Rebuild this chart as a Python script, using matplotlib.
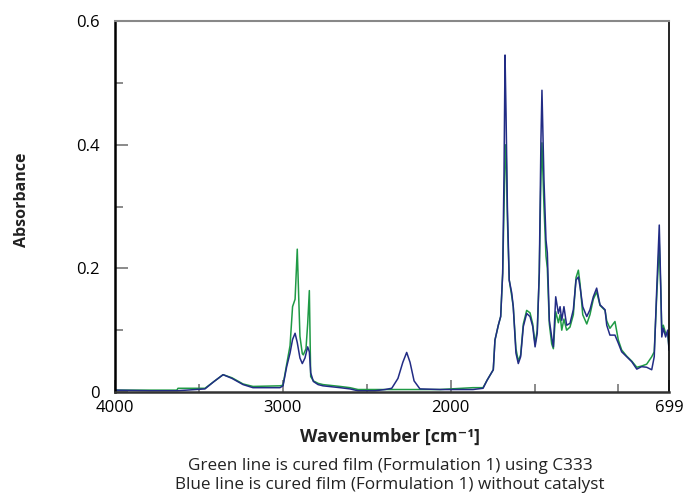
import matplotlib.pyplot as plt
from matplotlib.ticker import FixedLocator

plt.rcParams['font.family'] = ['Open Sans', 'DejaVu Sans']

# blue: cured film without catalyst
blue_wn = [4000, 3791, 3631, 3464, 3410, 3356, 3303, 3237, 3178, 3017, 2999, 2977,
           2957, 2942, 2927, 2914, 2898, 2884, 2868, 2852, 2842, 2834, 2818, 2790,
           2761, 2659, 2600, 2552, 2451, 2391, 2351, 2314, 2285, 2262, 2242, 2218,
           2183, 2064, 1867, 1807, 1783, 1746, 1736, 1716, 1702, 1690, 1682, 1676,
           1670, 1662, 1651, 1636, 1627, 1611, 1597, 1583, 1567, 1547, 1527, 1511,
           1497, 1484, 1472, 1462, 1456, 1444, 1432, 1424, 1412, 1398, 1388, 1374,
           1358, 1348, 1338, 1325, 1309, 1289, 1269, 1253, 1239, 1229, 1213, 1189,
           1170, 1150, 1130, 1110, 1080, 1070, 1051, 1021, 1001, 981, 951, 921,
           891, 862, 832, 802, 787, 773, 757, 748, 742, 733, 719, 707, 699]
blue_abs = [0.003, 0.002, 0.002, 0.005, 0.017, 0.028, 0.022, 0.012, 0.007, 0.007, 0.010, 0.041,
            0.063, 0.085, 0.095, 0.080, 0.055, 0.046, 0.055, 0.073, 0.065, 0.031, 0.017, 0.012,
            0.010, 0.007, 0.005, 0.002, 0.002, 0.004, 0.006, 0.022, 0.048, 0.064, 0.048, 0.018,
            0.005, 0.004, 0.004, 0.006, 0.019, 0.036, 0.084, 0.108, 0.122, 0.192, 0.354, 0.545,
            0.450, 0.300, 0.181, 0.160, 0.138, 0.063, 0.046, 0.057, 0.106, 0.127, 0.122, 0.106,
            0.073, 0.095, 0.192, 0.408, 0.488, 0.343, 0.246, 0.225, 0.116, 0.089, 0.073, 0.154,
            0.127, 0.138, 0.116, 0.138, 0.108, 0.111, 0.133, 0.181, 0.186, 0.170, 0.138, 0.122,
            0.133, 0.154, 0.168, 0.141, 0.133, 0.108, 0.092, 0.092, 0.079, 0.065, 0.057, 0.049,
            0.037, 0.041, 0.040, 0.036, 0.057, 0.160, 0.270, 0.170, 0.089, 0.103, 0.089, 0.100, 0.068]

# green: cured film using C333
green_wn = [4000, 3791, 3631, 3625, 3464, 3410, 3356, 3303, 3237, 3178, 3017, 2999,
            2977, 2957, 2942, 2927, 2914, 2905, 2898, 2884, 2878, 2862, 2852, 2842,
            2834, 2818, 2790, 2761, 2659, 2600, 2552, 2451, 2391, 2351, 2183, 2064,
            1867, 1807, 1783, 1746, 1736, 1716, 1702, 1690, 1682, 1676, 1670, 1662,
            1651, 1636, 1627, 1611, 1597, 1583, 1567, 1547, 1527, 1511, 1497, 1484,
            1472, 1462, 1456, 1444, 1432, 1424, 1412, 1398, 1388, 1374, 1358, 1348,
            1338, 1325, 1309, 1289, 1269, 1253, 1239, 1229, 1213, 1189, 1170, 1150,
            1130, 1110, 1080, 1070, 1051, 1021, 1001, 981, 951, 921, 891, 862,
            832, 802, 787, 773, 757, 748, 742, 733, 719, 707, 699]
green_abs = [0.003, 0.003, 0.003, 0.006, 0.006, 0.017, 0.028, 0.023, 0.013, 0.009, 0.010, 0.011,
             0.045, 0.075, 0.138, 0.150, 0.231, 0.150, 0.090, 0.062, 0.060, 0.070, 0.110, 0.164,
             0.025, 0.018, 0.014, 0.012, 0.009, 0.007, 0.004, 0.004, 0.004, 0.004, 0.004, 0.004,
             0.007, 0.007, 0.019, 0.036, 0.084, 0.108, 0.122, 0.192, 0.300, 0.370, 0.400, 0.280,
             0.181, 0.155, 0.138, 0.070, 0.050, 0.060, 0.110, 0.132, 0.128, 0.110, 0.078, 0.100,
             0.192, 0.350, 0.403, 0.300, 0.220, 0.200, 0.110, 0.078, 0.070, 0.130, 0.112, 0.125,
             0.100, 0.118, 0.100, 0.105, 0.125, 0.185, 0.197, 0.175, 0.125, 0.110, 0.125, 0.150,
             0.162, 0.140, 0.132, 0.115, 0.103, 0.114, 0.084, 0.068, 0.058, 0.050, 0.040, 0.042,
             0.045, 0.057, 0.065, 0.150, 0.240, 0.165, 0.100, 0.108, 0.095, 0.095, 0.072]

x_ticks = [4000, 3000, 2000, 699]
x_ticklabels = ['4000', '3000', '2000', '699']
x_minor = [3500, 2500, 1500, 1000]
y_ticks = [0, 0.2, 0.4, 0.6]
y_ticklabels = ['0', '0.2', '0.4', '0.6']
y_minor = [0.1, 0.3, 0.5]

fig = plt.figure(figsize=(6.87, 4.96), dpi=100)
ax = fig.add_axes([115 / 687, 1 - 392 / 496, 554 / 687, 371 / 496])

ax.plot(green_wn, green_abs, color='#1f9a45', lw=1.1)
ax.plot(blue_wn, blue_abs, color='#222c85', lw=1.1)

ax.set_xlim(4000, 699)
ax.set_ylim(0, 0.6)
ax.set_xticks(x_ticks)
ax.set_xticklabels(x_ticklabels)
ax.xaxis.set_minor_locator(FixedLocator(x_minor))
ax.set_yticks(y_ticks)
ax.set_yticklabels(y_ticklabels)
ax.yaxis.set_minor_locator(FixedLocator(y_minor))

ax.tick_params(which='both', direction='in', colors='#777777', labelcolor='black', labelsize=12)
ax.tick_params(which='major', length=9, width=1.2)
ax.tick_params(which='minor', length=6, width=1.2)
ax.tick_params(axis='y', pad=11)
ax.tick_params(axis='x', pad=6)

ax.spines['top'].set_color('#888888')
ax.spines['top'].set_linewidth(1.5)
ax.spines['left'].set_color('black')
ax.spines['left'].set_linewidth(1.8)
ax.spines['bottom'].set_color('#333333')
ax.spines['bottom'].set_linewidth(1.8)
ax.spines['right'].set_color('black')
ax.spines['right'].set_linewidth(1.2)

fig.text(22 / 687, 1 - 200 / 496, 'Absorbance', rotation=90, ha='center', va='center',
         fontsize=11.5, fontweight='bold', color='#222222')
fig.text(390 / 687, 1 - 437 / 496, 'Wavenumber [cm\u207b\u00b9]', ha='center', va='center',
         fontsize=13, fontweight='bold', color='#222222')
fig.text(390 / 687, 1 - 466 / 496, 'Green line is cured film (Formulation 1) using C333',
         ha='center', va='center', fontsize=12.3, color='#222222')
fig.text(390 / 687, 1 - 485 / 496, 'Blue line is cured film (Formulation 1) without catalyst',
         ha='center', va='center', fontsize=12.3, color='#222222')

fig.savefig('out.png', dpi=100)
